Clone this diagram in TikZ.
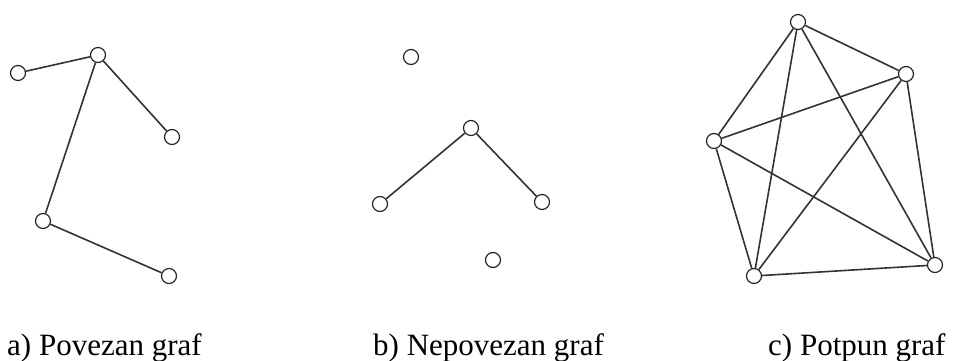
\documentclass[tikz,border=0pt]{standalone}
\usepackage{fontspec}
\setmainfont{Liberation Serif}
\usepackage{tikz}

\begin{document}
\begin{tikzpicture}[x=1pt, y=-1pt,
                vertex/.style={circle, draw=black!85, fill=white, line width=1.2pt, inner sep=0pt, minimum size=15pt},
                edge/.style={line width=1.6pt, draw=black!80},
                caption/.style={anchor=base west, inner sep=0pt, font=\fontsize{31}{36}\selectfont}
            ]
                \useasboundingbox (0,0) rectangle (954,361);

                % Nodes: a) Povezan graf
                \node[vertex] (a1) at (18,73) {};
                \node[vertex] (a2) at (98,55) {};
                \node[vertex] (a3) at (172,137) {};
                \node[vertex] (a4) at (43,221) {};
                \node[vertex] (a5) at (169,276) {};

                % Nodes: b) Nepovezan graf
                \node[vertex] (b1) at (411,57) {};
                \node[vertex] (b2) at (471,128) {};
                \node[vertex] (b3) at (380,204) {};
                \node[vertex] (b4) at (542,202) {};
                \node[vertex] (b5) at (493,260) {};

                % Nodes: c) Potpun graf
                \node[vertex] (c1) at (798,22) {};
                \node[vertex] (c2) at (906,74) {};
                \node[vertex] (c3) at (714,141) {};
                \node[vertex] (c4) at (754,276) {};
                \node[vertex] (c5) at (935,265) {};

                % Paths: povezan
                \draw[edge] (a1) -- (a2);
                \draw[edge] (a2) -- (a3);
                \draw[edge] (a2) -- (a4);
                \draw[edge] (a4) -- (a5);

                % Paths: nepovezan
                \draw[edge] (b2) -- (b3);
                \draw[edge] (b2) -- (b4);

                % Paths: potpun
                \foreach \i/\j in {1/2, 1/3, 1/4, 1/5, 2/3, 2/4, 2/5, 3/4, 3/5, 4/5} {
                    \draw[edge] (c\i) -- (c\j);
                }

                % Captions
                \node[caption] (capa) at (7,355) {a) Povezan graf};
                \node[caption] (capb) at (373,355) {b) Nepovezan graf};
                \node[caption] (capc) at (768,355) {c) Potpun graf};
            \end{tikzpicture}
\end{document}
